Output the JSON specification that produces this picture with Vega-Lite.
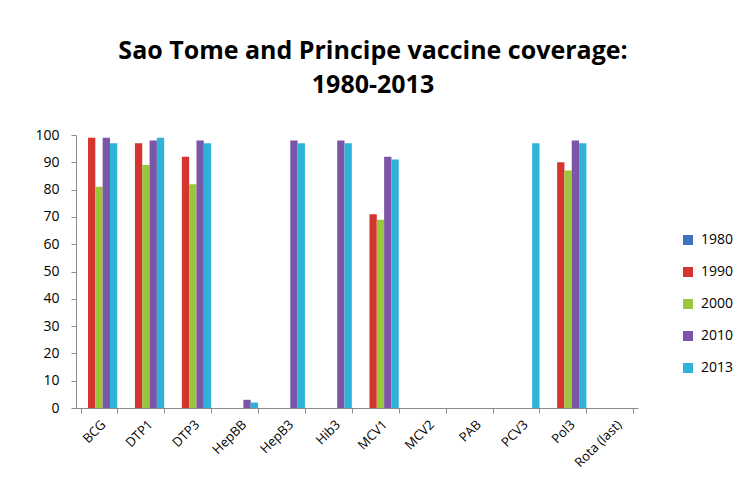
{
  "$schema": "https://vega.github.io/schema/vega-lite/v6.json",
  "autosize": {"type": "none"},
  "width": 562,
  "height": 273,
  "padding": {"left": 76, "top": 135, "right": 105, "bottom": 88},
  "background": "white",
  "title": {
    "text": ["Sao Tome and Principe vaccine coverage:", "1980-2013"],
    "font": "Open Sans",
    "fontSize": 25,
    "fontWeight": "bold",
    "color": "#000000",
    "anchor": "middle",
    "dx": 16,
    "offset": 30,
    "lineHeight": 34
  },
  "data": {
    "values": [
      {"vaccine": "BCG", "year": "1980", "coverage": 0},
      {"vaccine": "BCG", "year": "1990", "coverage": 99},
      {"vaccine": "BCG", "year": "2000", "coverage": 81},
      {"vaccine": "BCG", "year": "2010", "coverage": 99},
      {"vaccine": "BCG", "year": "2013", "coverage": 97},
      {"vaccine": "DTP1", "year": "1980", "coverage": 0},
      {"vaccine": "DTP1", "year": "1990", "coverage": 97},
      {"vaccine": "DTP1", "year": "2000", "coverage": 89},
      {"vaccine": "DTP1", "year": "2010", "coverage": 98},
      {"vaccine": "DTP1", "year": "2013", "coverage": 99},
      {"vaccine": "DTP3", "year": "1980", "coverage": 0},
      {"vaccine": "DTP3", "year": "1990", "coverage": 92},
      {"vaccine": "DTP3", "year": "2000", "coverage": 82},
      {"vaccine": "DTP3", "year": "2010", "coverage": 98},
      {"vaccine": "DTP3", "year": "2013", "coverage": 97},
      {"vaccine": "HepBB", "year": "1980", "coverage": 0},
      {"vaccine": "HepBB", "year": "1990", "coverage": 0},
      {"vaccine": "HepBB", "year": "2000", "coverage": 0},
      {"vaccine": "HepBB", "year": "2010", "coverage": 3},
      {"vaccine": "HepBB", "year": "2013", "coverage": 2},
      {"vaccine": "HepB3", "year": "1980", "coverage": 0},
      {"vaccine": "HepB3", "year": "1990", "coverage": 0},
      {"vaccine": "HepB3", "year": "2000", "coverage": 0},
      {"vaccine": "HepB3", "year": "2010", "coverage": 98},
      {"vaccine": "HepB3", "year": "2013", "coverage": 97},
      {"vaccine": "Hib3", "year": "1980", "coverage": 0},
      {"vaccine": "Hib3", "year": "1990", "coverage": 0},
      {"vaccine": "Hib3", "year": "2000", "coverage": 0},
      {"vaccine": "Hib3", "year": "2010", "coverage": 98},
      {"vaccine": "Hib3", "year": "2013", "coverage": 97},
      {"vaccine": "MCV1", "year": "1980", "coverage": 0},
      {"vaccine": "MCV1", "year": "1990", "coverage": 71},
      {"vaccine": "MCV1", "year": "2000", "coverage": 69},
      {"vaccine": "MCV1", "year": "2010", "coverage": 92},
      {"vaccine": "MCV1", "year": "2013", "coverage": 91},
      {"vaccine": "MCV2", "year": "1980", "coverage": 0},
      {"vaccine": "MCV2", "year": "1990", "coverage": 0},
      {"vaccine": "MCV2", "year": "2000", "coverage": 0},
      {"vaccine": "MCV2", "year": "2010", "coverage": 0},
      {"vaccine": "MCV2", "year": "2013", "coverage": 0},
      {"vaccine": "PAB", "year": "1980", "coverage": 0},
      {"vaccine": "PAB", "year": "1990", "coverage": 0},
      {"vaccine": "PAB", "year": "2000", "coverage": 0},
      {"vaccine": "PAB", "year": "2010", "coverage": 0},
      {"vaccine": "PAB", "year": "2013", "coverage": 0},
      {"vaccine": "PCV3", "year": "1980", "coverage": 0},
      {"vaccine": "PCV3", "year": "1990", "coverage": 0},
      {"vaccine": "PCV3", "year": "2000", "coverage": 0},
      {"vaccine": "PCV3", "year": "2010", "coverage": 0},
      {"vaccine": "PCV3", "year": "2013", "coverage": 97},
      {"vaccine": "Pol3", "year": "1980", "coverage": 0},
      {"vaccine": "Pol3", "year": "1990", "coverage": 90},
      {"vaccine": "Pol3", "year": "2000", "coverage": 87},
      {"vaccine": "Pol3", "year": "2010", "coverage": 98},
      {"vaccine": "Pol3", "year": "2013", "coverage": 97},
      {"vaccine": "Rota (last)", "year": "1980", "coverage": 0},
      {"vaccine": "Rota (last)", "year": "1990", "coverage": 0},
      {"vaccine": "Rota (last)", "year": "2000", "coverage": 0},
      {"vaccine": "Rota (last)", "year": "2010", "coverage": 0},
      {"vaccine": "Rota (last)", "year": "2013", "coverage": 0}
    ]
  },
  "mark": {"type": "bar", "stroke": null},
  "encoding": {
    "x": {
      "field": "vaccine",
      "type": "nominal",
      "sort": null,
      "title": null,
      "scale": {"paddingInner": 0.22, "paddingOuter": 0.1},
      "axis": {
        "labelAngle": -45,
        "labelAlign": "right",
        "labelBaseline": "top",
        "labelFont": "Open Sans",
        "labelFontSize": 13,
        "labelColor": "#000000",
        "domainColor": "#8c8c8c",
        "tickColor": "#8c8c8c",
        "tickBand": "extent",
        "tickSize": 5,
        "labelPadding": 5
      }
    },
    "xOffset": {"field": "year", "type": "nominal"},
    "y": {
      "field": "coverage",
      "type": "quantitative",
      "title": null,
      "scale": {"domain": [0, 100]},
      "axis": {
        "values": [0, 10, 20, 30, 40, 50, 60, 70, 80, 90, 100],
        "grid": false,
        "labelFont": "Open Sans",
        "labelFontSize": 14,
        "labelColor": "#000000",
        "domainColor": "#8c8c8c",
        "tickColor": "#8c8c8c",
        "tickSize": 5,
        "labelPadding": 12
      }
    },
    "color": {
      "field": "year",
      "type": "nominal",
      "title": null,
      "scale": {
        "domain": ["1980", "1990", "2000", "2010", "2013"],
        "range": ["#3E72C0", "#D5352F", "#9AC53D", "#7A55A8", "#2FB2D8"]
      },
      "legend": {
        "orient": "none",
        "legendX": 605,
        "legendY": 98,
        "symbolType": "square",
        "symbolSize": 100,
        "symbolStrokeWidth": 0,
        "labelFont": "Open Sans",
        "labelFontSize": 14,
        "labelColor": "#000000",
        "rowPadding": 18,
        "labelOffset": 6
      }
    }
  },
  "config": {
    "view": {"stroke": null}
  }
}
